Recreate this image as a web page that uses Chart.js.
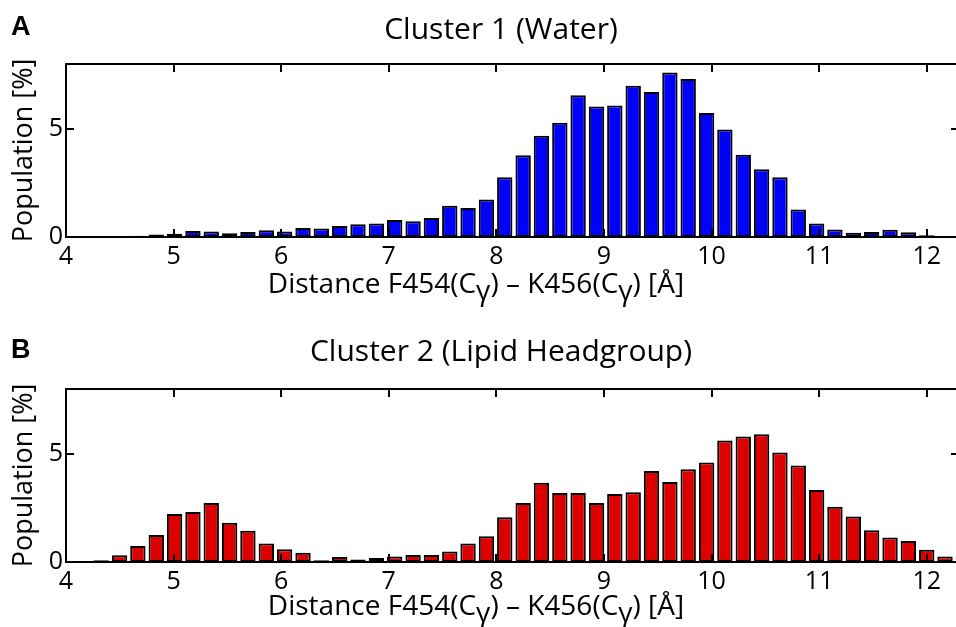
<!DOCTYPE html>
<html>
<head>
<meta charset="utf-8">
<script src="https://cdn.jsdelivr.net/npm/chart.js@4.4.0/dist/chart.umd.min.js"></script>
<style>
  html, body { margin: 0; padding: 0; background: #fff; overflow: hidden; }
  .panel { position: absolute; left: 0; width: 960px; }
  #panelA { top: 0; height: 313px; }
  #panelB { top: 313px; height: 314px; }
</style>
</head>
<body>
<div class="panel" id="panelA"><canvas id="chartA"></canvas></div>
<div class="panel" id="panelB"><canvas id="chartB"></canvas></div>
<script>
// histogram bin centres, distance in Angstrom
const binCenters = [
  4.157, 4.327, 4.498, 4.668, 4.839, 5.009, 5.180, 5.350, 5.521, 5.691,
  5.862, 6.032, 6.203, 6.373, 6.544, 6.714, 6.885, 7.055, 7.226, 7.396,
  7.567, 7.737, 7.908, 8.078, 8.249, 8.419, 8.590, 8.760, 8.931, 9.101,
  9.272, 9.442, 9.613, 9.783, 9.954, 10.124, 10.295, 10.465, 10.636, 10.806,
  10.977, 11.147, 11.318, 11.488, 11.659, 11.829, 12.000, 12.170
];

// population [%], cluster 1 (water)
const water = [
  0, 0, 0, 0.06, 0.11, 0.15, 0.28, 0.25, 0.17, 0.23,
  0.31, 0.26, 0.42, 0.39, 0.51, 0.59, 0.63, 0.79, 0.73, 0.88,
  1.44, 1.34, 1.73, 2.76, 3.78, 4.68, 5.28, 6.56, 6.03, 6.08,
  6.99, 6.70, 7.61, 7.31, 5.73, 4.97, 3.80, 3.13, 2.76, 1.27,
  0.63, 0.35, 0.20, 0.23, 0.34, 0.22, 0.08, 0
];

// population [%], cluster 2 (lipid headgroup)
const lipid = [
  0.02, 0.08, 0.31, 0.74, 1.25, 2.22, 2.31, 2.73, 1.81, 1.45,
  0.85, 0.59, 0.43, 0.08, 0.23, 0.12, 0.19, 0.26, 0.32, 0.32,
  0.49, 0.85, 1.19, 2.07, 2.73, 3.67, 3.19, 3.19, 2.73, 3.15,
  3.23, 4.21, 3.70, 4.29, 4.60, 5.62, 5.80, 5.91, 5.06, 4.46,
  3.33, 2.56, 2.10, 1.47, 1.13, 0.97, 0.57, 0.26
];

const yTickStep = 5;
const xTickStep = 1;

const FONT = '"Open Sans", "Noto Sans", sans-serif';
const GAMMA = 'γ';
const xTitleParts = ['Distance F454(C', GAMMA, ') – K456(C', GAMMA, ') [Å]'];

// frame box, inward tick marks, panel letter, titles
const decorations = {
  id: 'decorations',
  afterDatasetsDraw(chart, args, opts) {
    const { ctx, chartArea: a, scales: { x, y } } = chart;
    ctx.save();
    ctx.strokeStyle = '#000';
    ctx.lineWidth = 2;
    ctx.strokeRect(a.left, a.top, a.right - a.left, a.bottom - a.top);
    ctx.beginPath();
    x.ticks.forEach((t) => {
      const px = Math.round(x.getPixelForValue(t.value));
      ctx.moveTo(px, a.top); ctx.lineTo(px, a.top + 8);
      ctx.moveTo(px, a.bottom); ctx.lineTo(px, a.bottom - 8);
    });
    y.ticks.forEach((t) => {
      const py = Math.round(y.getPixelForValue(t.value));
      ctx.moveTo(a.left, py); ctx.lineTo(a.left + 8, py);
      ctx.moveTo(a.right, py); ctx.lineTo(a.right - 8, py);
    });
    ctx.stroke();

    ctx.fillStyle = '#000';
    ctx.textBaseline = 'middle';

    ctx.font = 'bold 27px "Liberation Sans", Arial, sans-serif';
    ctx.textAlign = 'left';
    ctx.fillText(opts.letter, 11, opts.letterY);

    ctx.font = '30px ' + FONT;
    ctx.textAlign = 'center';
    ctx.fillText(opts.title, opts.titleX, opts.titleY);

    // x axis title, gamma set a little low like a subscript
    ctx.font = '28px ' + FONT;
    ctx.textAlign = 'left';
    const widths = xTitleParts.map((s) => ctx.measureText(s).width);
    let cx = opts.xTitleX - widths.reduce((p, c) => p + c, 0) / 2;
    const ty = a.bottom + opts.xTitleDy;
    xTitleParts.forEach((s, i) => {
      ctx.fillText(s, cx, s === GAMMA ? ty + 7 : ty);
      cx += widths[i];
    });
    ctx.restore();
  }
};

function makeChart(id, values, color, deco, topPad, axisHeight) {
  return new Chart(document.getElementById(id), {
    type: 'bar',
    data: {
      datasets: [{
        data: binCenters.map((c, i) => ({ x: c, y: values[i] })),
        backgroundColor: color,
        borderColor: '#000',
        borderWidth: 2,
        borderSkipped: false,
        barPercentage: 0.84,
        categoryPercentage: 1
      }]
    },
    options: {
      responsive: true,
      maintainAspectRatio: false,
      animation: false,
      layout: { padding: { top: topPad, left: 0, right: 1, bottom: 0 } },
      plugins: {
        legend: { display: false },
        tooltip: { enabled: false },
        decorations: deco
      },
      scales: {
        x: {
          type: 'linear',
          min: 4,
          max: 12.3,
          offset: false,
          grid: { display: false, drawTicks: false, offset: false },
          border: { display: false },
          ticks: {
            stepSize: xTickStep,
            includeBounds: false,
            padding: 5,
            color: '#000',
            maxRotation: 0,
            font: { family: FONT, size: 25 }
          },
          afterFit: (s) => { s.height = axisHeight; }
        },
        y: {
          min: 0,
          max: 8,
          grid: { display: false, drawTicks: false },
          border: { display: false },
          ticks: {
            stepSize: yTickStep,
            includeBounds: false,
            padding: 3,
            color: '#000',
            font: { family: FONT, size: 25 }
          },
          title: {
            display: true,
            text: 'Population [%]',
            color: '#000',
            font: { family: FONT, size: 27 },
            padding: { top: 8, bottom: 0 }
          },
          afterFit: (s) => { s.width = 66; }
        }
      }
    },
    plugins: [decorations]
  });
}

makeChart('chartA', water, '#0000ff', {
  letter: 'A', letterY: 28,
  title: 'Cluster 1 (Water)', titleX: 501, titleY: 30,
  xTitleX: 476, xTitleDy: 48
}, 64, 76);

makeChart('chartB', lipid, '#dc0000', {
  letter: 'B', letterY: 38,
  title: 'Cluster 2 (Lipid Headgroup)', titleX: 501, titleY: 39,
  xTitleX: 476, xTitleDy: 45
}, 76, 65);
</script>
</body>
</html>
